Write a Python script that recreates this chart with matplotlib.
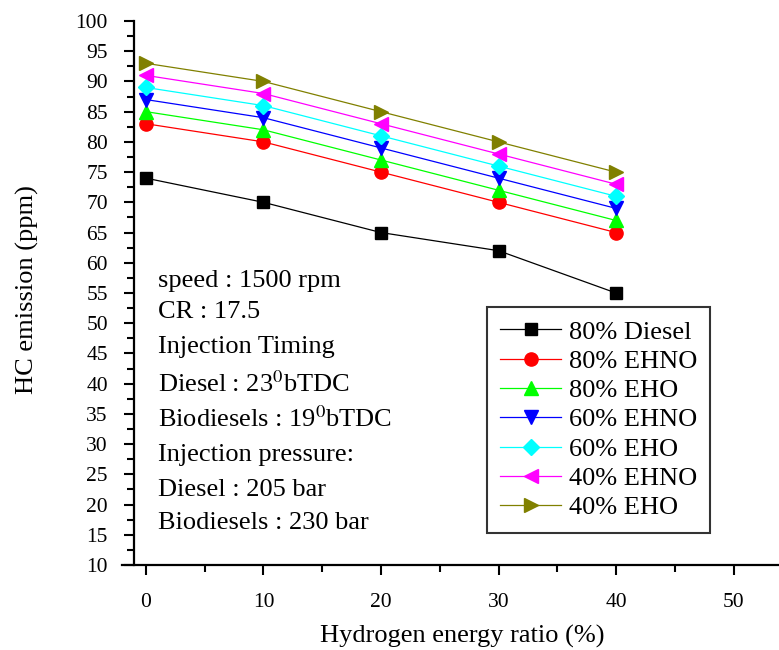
import matplotlib
matplotlib.use("Agg")
import matplotlib.pyplot as plt
from matplotlib.ticker import MultipleLocator

plt.rcParams["font.family"] = ["Liberation Serif", "DejaVu Serif"]
plt.rcParams["mathtext.fontset"] = "stix"

# 氢能比例 (%) 与各燃料 HC 排放 (ppm)
hydrogen_ratio = [0, 10, 20, 30, 40]
diesel_80 = [74, 70, 65, 62, 55]
ehno_80 = [83, 80, 75, 70, 65]
eho_80 = [85, 82, 77, 72, 67]
ehno_60 = [87, 84, 79, 74, 69]
eho_60 = [89, 86, 81, 76, 71]
ehno_40 = [91, 88, 83, 78, 73]
eho_40 = [93, 90, 85, 80, 75]

series = [
    ("80% Diesel", diesel_80, "black", "s"),
    ("80% EHNO", ehno_80, "red", "o"),
    ("80% EHO", eho_80, "#00ff00", "^"),
    ("60% EHNO", ehno_60, "blue", "v"),
    ("60% EHO", eho_60, "cyan", "D"),
    ("40% EHNO", ehno_40, "magenta", "<"),
    ("40% EHO", eho_40, "#808000", ">"),
]

notes = [
    "speed : 1500 rpm",
    "CR : 17.5",
    "Injection Timing",
    "Diesel : 23$^0$bTDC",
    "Biodiesels : 19$^0$bTDC",
    "Injection pressure:",
    "Diesel : 205 bar",
    "Biodiesels : 230 bar",
]
note_baselines = [287, 318, 353, 392, 427, 461, 496, 529]

W, H = 779, 650
fig = plt.figure(figsize=(W / 100, H / 100), dpi=100)
ax = fig.add_axes([122 / W, 1 - 565 / H, 657 / W, 544 / H])

for label, vals, color, marker in series:
    ms = 8 if marker == "D" else 9.5
    if marker == "s":
        ms = 8.5
    ax.plot(hydrogen_ratio, vals, color=color, lw=0.9, marker=marker,
            markersize=ms, markerfacecolor=color, markeredgecolor=color,
            label=label)

ax.set_xlim(-2.04, 53.87)
ax.set_ylim(10, 100)

# 坐标轴样式
ax.spines["top"].set_visible(False)
ax.spines["right"].set_visible(False)
ax.spines["left"].set_position(("data", -1))
ax.spines["left"].set_linewidth(1.6)
ax.spines["bottom"].set_linewidth(1.6)

ax.xaxis.set_major_locator(MultipleLocator(10))
ax.xaxis.set_minor_locator(MultipleLocator(5))
ax.yaxis.set_major_locator(MultipleLocator(5))
ax.yaxis.set_minor_locator(MultipleLocator(2.5))
ax.tick_params(which="major", direction="out", length=7, width=1.5,
               labelsize=15.5)
ax.tick_params(which="minor", direction="out", length=5, width=1.5)
ax.tick_params(axis="x", which="major", pad=13)
ax.tick_params(axis="y", which="major", pad=12)

fig.text(27 / W, 1 - 290 / H, "HC emission (ppm)", rotation=90,
         ha="center", va="center", fontsize=19)
fig.text(462 / W, 1 - 636 / H, "Hydrogen energy ratio (%)",
         ha="center", va="center", fontsize=19)

for text, yb in zip(notes, note_baselines):
    fig.text(158 / W, 1 - yb / H, text, ha="left", va="baseline",
             fontsize=19)

leg = ax.legend(loc="upper left", bbox_to_anchor=(487 / W, 1 - 307 / H),
                bbox_transform=fig.transFigure, borderaxespad=0,
                fontsize=19, numpoints=1, handlelength=2.3,
                handletextpad=0.3, labelspacing=0.22, borderpad=0.5,
                fancybox=False, framealpha=1)
leg.get_frame().set_edgecolor("#333333")
leg.get_frame().set_linewidth(1.5)

fig.savefig("out.png", dpi=100)
